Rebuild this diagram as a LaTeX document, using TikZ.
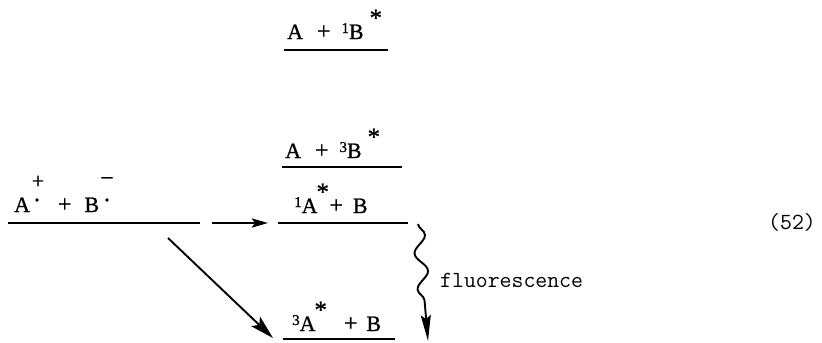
\documentclass[tikz,border=0pt]{standalone}
\usepackage{fontspec}
\setmainfont{Liberation Serif}
\newfontfamily\chem[FakeBold=0.9]{Liberation Serif}
\usetikzlibrary{arrows.meta,decorations.pathmorphing}
\newcommand{\upn}[1]{\raisebox{6bp}{\fontsize{15}{15}\selectfont #1}}
\newcommand{\exc}{\raisebox{13bp}{\fontsize{25}{25}\selectfont *}}
\newcommand{\pls}{{\fontsize{24}{24}\selectfont +}}
\tikzset{
  lvl/.style={line width=1.8bp},
  lab/.style={anchor=base west, inner sep=0pt, font=\fontsize{22}{22}\selectfont\chem},
  chg/.style={inner sep=0pt, font=\fontsize{22}{22}\selectfont\chem},
  tw/.style={anchor=base west, inner sep=0pt, font=\fontsize{23.2}{23}\selectfont\ttfamily\addfontfeatures{FakeBold=0.6}},
  dotc/.style={circle, fill=black, inner sep=0pt, minimum size=3.6bp},
}
\begin{document}
\begin{tikzpicture}[x=1bp,y=-1bp]
\useasboundingbox (0,0) rectangle (822,342);
% level lines
\coordinate (a0) at (8,223);   \coordinate (b0) at (200,223);
\coordinate (a1) at (284,50);  \coordinate (b1) at (388,50);
\coordinate (a2) at (282,167); \coordinate (b2) at (402,167);
\coordinate (a3) at (278,223); \coordinate (b3) at (408,223);
\coordinate (a4) at (283,339); \coordinate (b4) at (395,339);
\draw[lvl] (a0) -- (b0);
\draw[lvl] (a1) -- (b1);
\draw[lvl] (a2) -- (b2);
\draw[lvl] (a3) -- (b3);
\draw[lvl] (a4) -- (b4);
% labels
\node[lab] (t0) at (14,212) {A\hspace{28bp}\pls\hspace{13bp}B};
\node[chg] (p0) at (38,182) {+};
\node[dotc] (d0) at (37,200) {};
\node[chg] (m0) at (107,180) {–};
\node[dotc] (d1) at (107,200) {};
\node[lab] (t1) at (287,39) {A\hspace{14bp}\pls\hspace{11bp}\upn{1}B\hspace{6bp}\exc};
\node[lab] (t2) at (285,158) {A\hspace{14bp}\pls\hspace{11bp}\upn{3}B\hspace{6bp}\exc};
\node[lab] (t3) at (294,213) {\upn{1}A\kern-1bp\exc\kern0.5bp\pls\hspace{10bp}B};
\node[lab] (t4) at (292,331) {\upn{3}A\kern-1bp\exc\hspace{17bp}\pls\hspace{9bp}B};
\node[tw] (fl) at (440,287) {fluorescence};
\node[tw] (eq) at (768,229) {(52)};
% connectors
\coordinate (h1) at (212,223); \coordinate (h2) at (268,223);
\coordinate (g1) at (168,238); \coordinate (g2) at (273,338);
\coordinate (w1) at (418,224); \coordinate (w2) at (428,341);
\draw[line width=2.8bp, -{Stealth[length=16bp,width=9bp,inset=3bp]}] (h1) -- (h2);
\draw[line width=1.9bp, -{Stealth[length=24bp,width=13bp,inset=5bp]}] (g1) -- (g2);
\draw[line width=1.9bp, decorate, decoration={snake, segment length=36bp, amplitude=6bp, post length=26bp},
      -{Stealth[length=26bp,width=10bp,inset=4bp]}] (w1) -- (w2);
\end{tikzpicture}
\end{document}
